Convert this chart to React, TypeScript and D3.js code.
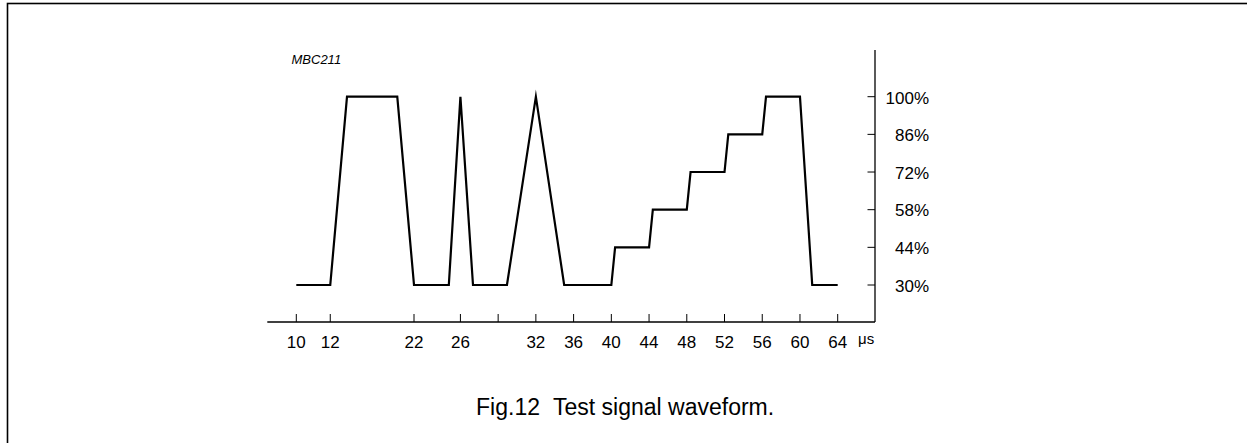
import React from "react";
import * as d3 from "d3";

// ---- data ----
const xTickValues = [10, 12, 22, 26, 29, 32, 36, 40, 44, 48, 52, 56, 60, 64];
const xTickLabels = ["10", "12", "22", "26", "", "32", "36", "40", "44", "48", "52", "56", "60", "64"];
// schematic (non-proportional) slot of each tick along the time axis
const xTickSlots = [0, 0.9, 3.12, 4.35, 5.35, 6.35, 7.35, 8.35, 9.35, 10.35, 11.35, 12.35, 13.35, 14.35];
const yTickValues = [30, 44, 58, 72, 86, 100];
const yTickLabels = ["30%", "44%", "58%", "72%", "86%", "100%"];

const waveTime = [10, 12, 14, 20, 22, 25, 26, 27, 29.7, 32, 35, 40, 40.4, 44, 44.4, 48, 48.4, 52, 52.4, 56, 56.4, 60, 61.3, 64];
const waveLevel = [30, 30, 100, 100, 30, 30, 100, 30, 30, 100, 30, 30, 44, 44, 58, 58, 72, 72, 86, 86, 100, 100, 30, 30];

const W = 1247;
const H = 443;
const FONT = "'Liberation Sans', Arial, Helvetica, sans-serif";

export default function App() {
  const slotScale = d3.scaleLinear().domain([0, 14.35]).range([296.3, 837.7]);
  const x = d3
    .scaleLinear()
    .domain(xTickValues)
    .range(xTickSlots.map((s) => slotScale(s)));
  const y = d3.scaleLinear().domain([30, 100]).range([285, 96.7]);

  const axisY = 322;
  const axisX = 875;
  const xAxisStart = 267.3;
  const yAxisTop = 50;

  const line = d3
    .line<number>()
    .x((_, i) => x(waveTime[i]))
    .y((_, i) => y(waveLevel[i]));
  const pathD = line(waveTime) || "";

  return (
    <svg
      width={W}
      height={H}
      style={{ position: "absolute", left: 0, top: 0, background: "#fff" }}
    >
      <rect x={0} y={0} width={W} height={H} fill="#fff" />
      {/* frame */}
      <rect x={7.5} y={3.5} width={W + 100} height={H + 100} fill="none" stroke="#000" strokeWidth={1.6} />

      {/* axes */}
      <line x1={xAxisStart} y1={axisY} x2={axisX} y2={axisY} stroke="#000" strokeWidth={1.3} />
      <line x1={axisX} y1={yAxisTop} x2={axisX} y2={axisY} stroke="#000" strokeWidth={1.3} />

      {/* x ticks */}
      {xTickValues.map((v, i) => (
        <g key={"xt" + i}>
          <line x1={x(v)} x2={x(v)} y1={axisY - 8} y2={axisY} stroke="#000" strokeWidth={1} />
          {xTickLabels[i] && (
            <text
              x={x(v)}
              y={axisY + 26}
              textAnchor="middle"
              fontFamily={FONT}
              fontSize={17}
              fill="#000"
            >
              {xTickLabels[i]}
            </text>
          )}
        </g>
      ))}
      <text x={858} y={344} fontFamily={FONT} fontSize={15} fill="#000">
        μs
      </text>

      {/* y ticks */}
      {yTickValues.map((v, i) => (
        <g key={"yt" + i}>
          <line x1={axisX - 7.5} x2={axisX} y1={y(v)} y2={y(v)} stroke="#000" strokeWidth={1} />
          <text
            x={929}
            y={y(v)}
            dy="0.4em"
            textAnchor="end"
            fontFamily={FONT}
            fontSize={17}
            fill="#000"
          >
            {yTickLabels[i]}
          </text>
        </g>
      ))}

      {/* waveform */}
      <path
        d={pathD}
        fill="none"
        stroke="#000"
        strokeWidth={2.2}
        strokeLinejoin="miter"
        strokeMiterlimit={10}
      />

      {/* label */}
      <text x={291.5} y={64} fontFamily={FONT} fontSize={13} fontStyle="italic" fill="#000">
        MBC211
      </text>

      {/* caption */}
      <text x={540} y={415} textAnchor="end" fontFamily={FONT} fontSize={23} fill="#000">
        Fig.12
      </text>
      <text x={553} y={415} fontFamily={FONT} fontSize={23} fill="#000">
        Test signal waveform.
      </text>
    </svg>
  );
}
